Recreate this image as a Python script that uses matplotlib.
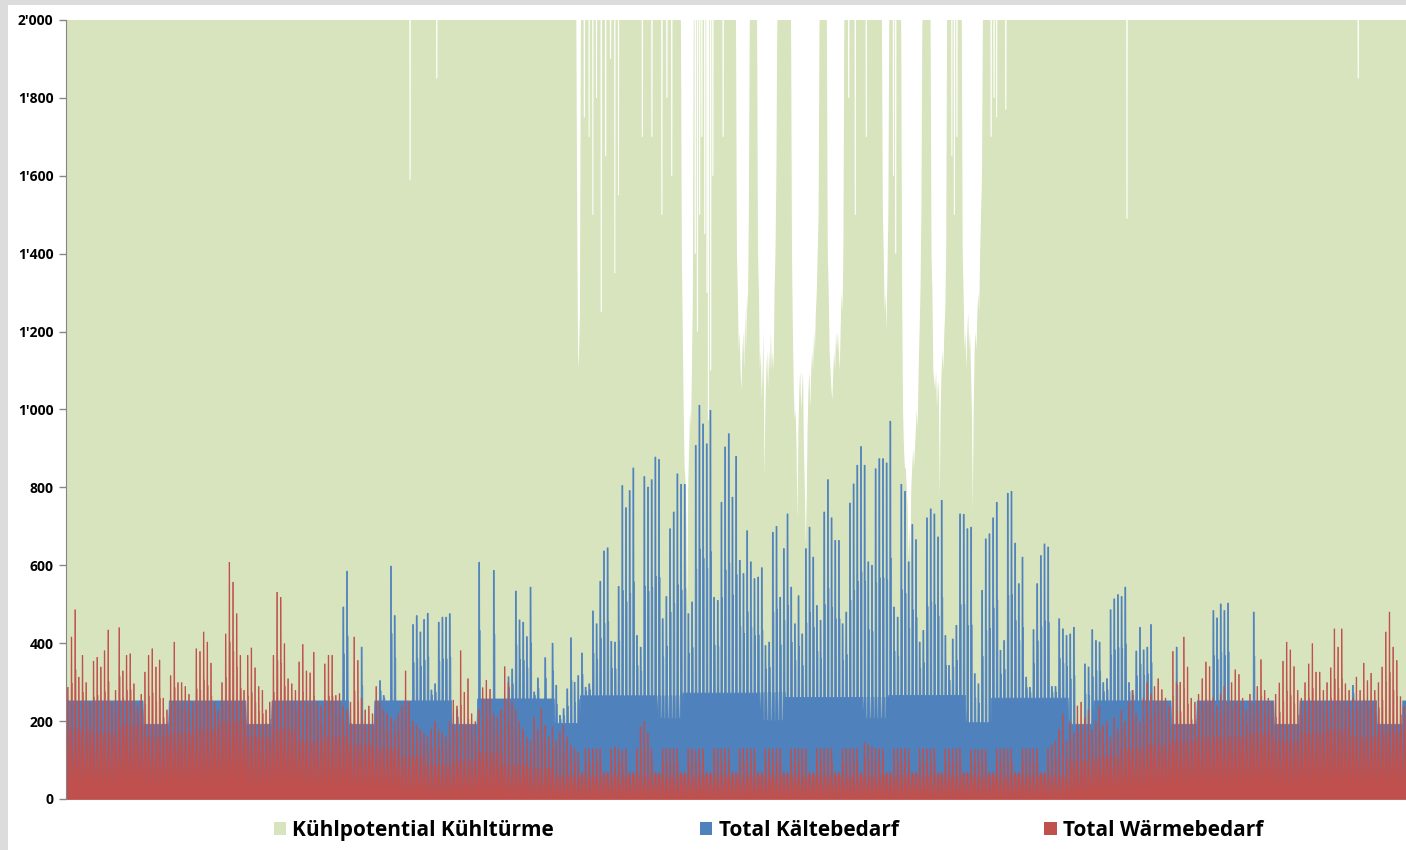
import numpy as np
import matplotlib.pyplot as plt
from matplotlib.patches import Patch, Rectangle
from matplotlib.ticker import FuncFormatter

plt.rcParams['font.family'] = ['Open Sans', 'DejaVu Sans']

# Kältebedarf: Grundlast je 4-Wochen-Zyklus (3 Wochen normal, 1 Woche reduziert)
cycle_hi = [253, 253, 253, 253, 258, 266, 273, 262, 267, 260, 253, 253, 253, 253]
cycle_lo = [193, 193, 193, 193, 195, 208, 203, 208, 197, 193, 193, 193, 193, 193]
cycle_lo_day = [193, 193, 193, 193, 195, 266, 274, 262, 197, 193, 193, 193, 193, 193]

# Tagesspitzen Kältebedarf (0 = keine Spitze über Grundlast), Tag 0..364
cool_peak = [
    0, 0, 0, 0, 0, 0, 0, 0, 0, 0, 0, 0, 0, 0,
    0, 0, 0, 0, 0, 0, 0, 0, 0, 0, 0, 0, 0, 0,
    0, 0, 0, 0, 0, 0, 0, 0, 0, 0, 0, 0, 0, 0,
    0, 0, 0, 0, 0, 0, 0, 0, 0, 0, 0, 0, 0, 0,
    0, 0, 0, 0, 0, 0, 0, 0, 0, 0, 0, 0, 0, 0,
    0, 0, 0, 0, 0, 494, 586,
    0, 0, 0, 391, 0, 0, 0,
    0, 305, 267, 0, 599, 472, 0,
    0, 0, 0, 449, 472, 430, 462,
    478, 281, 297, 455, 468, 468, 477,
    0, 230, 0, 0, 0, 0, 0,
    609, 0, 0, 0, 588, 0, 0,
    0, 315, 335, 535, 461, 455, 418,
    545, 276, 312, 0, 364, 0, 401,
    293, 216, 233, 284, 415, 301, 318,
    376, 288, 297, 484, 451, 560, 638,
    646, 406, 404, 547, 806, 749, 793,
    851, 421, 391, 829, 802, 821, 879,
    873, 464, 521, 695, 738, 836, 809,
    809, 477, 507, 909, 1012, 964, 913,
    999, 519, 511, 763, 905, 939, 776,
    881, 614, 580, 690, 610, 567, 571,
    595, 395, 404, 686, 701, 519, 644,
    733, 545, 451, 523, 425, 644, 699,
    622, 498, 460, 738, 821, 723, 665,
    665, 451, 481, 761, 810, 858, 906,
    858, 610, 601, 849, 875, 875, 864,
    971, 494, 468, 809, 791, 610, 706,
    667, 404, 434, 723, 746, 733, 674,
    768, 421, 344, 412, 447, 733, 732,
    695, 699, 323, 297, 537, 669, 682,
    723, 763, 383, 408, 786, 791, 658,
    554, 622, 314, 288, 436, 554, 626,
    656, 648, 290, 290, 464, 438, 421,
    425, 442, 0, 0, 348, 340, 436,
    408, 404, 300, 310, 487, 515, 526,
    521, 545, 300, 280, 381, 442, 384,
    391, 449, 0, 0, 0, 0, 0,
    0, 391, 0, 0, 0, 0, 0,
    0, 0, 0, 0, 485, 466, 502,
    485, 504, 0, 0, 0, 0, 0,
    0, 481, 0, 0, 0, 0, 0,
    0, 0, 0, 0, 0, 0, 0,
    0, 0, 0, 0, 0, 0, 0,
    0, 0, 0, 0, 0, 0, 0,
    293, 0, 0, 0, 0, 0, 0,
    0, 0, 0, 0, 0, 0, 0,
    0,
]

# Tagesspitzen Wärmebedarf, Tag 0..364
heat_peak = [
    288, 417, 487, 314, 370, 300, 250,
    355, 365, 340, 382, 435, 250, 280,
    441, 330, 370, 374, 297, 240, 270,
    327, 370, 387, 340, 358, 260, 230,
    318, 404, 300, 300, 290, 270, 250,
    387, 380, 430, 404, 350, 250, 230,
    300, 425, 609, 558, 477, 370, 280,
    370, 389, 338, 290, 280, 230, 250,
    370, 532, 519, 400, 310, 297, 280,
    353, 398, 330, 325, 378, 250, 240,
    348, 370, 370, 267, 272, 240, 230,
    250, 417, 357, 260, 230, 240, 220,
    290, 250, 230, 220, 210, 200, 220,
    240, 330, 250, 200, 190, 180, 170,
    160, 180, 200, 180, 170, 160, 200,
    255, 240, 382, 275, 310, 220, 200,
    230, 287, 306, 283, 220, 210, 230,
    341, 300, 250, 230, 200, 180, 160,
    150, 211, 180, 233, 190, 160, 186,
    150, 170, 190, 160, 140, 130, 120,
    70, 130, 130, 130, 130, 130, 70,
    70, 130, 135, 130, 125, 130, 70,
    70, 130, 186, 200, 170, 130, 70,
    70, 130, 130, 130, 130, 130, 70,
    70, 130, 130, 125, 130, 130, 70,
    70, 130, 130, 130, 130, 130, 70,
    70, 130, 130, 130, 130, 130, 70,
    70, 130, 130, 130, 130, 130, 70,
    70, 130, 130, 130, 130, 130, 70,
    70, 130, 130, 130, 130, 130, 70,
    70, 130, 130, 130, 130, 130, 70,
    147, 140, 135, 130, 130, 130, 70,
    70, 130, 130, 130, 130, 130, 70,
    70, 130, 130, 130, 130, 130, 70,
    70, 130, 130, 130, 130, 130, 70,
    70, 128, 128, 128, 128, 128, 70,
    70, 130, 130, 130, 130, 130, 70,
    70, 130, 130, 130, 130, 130, 70,
    70, 130, 140, 150, 180, 220, 150,
    200, 170, 240, 250, 210, 230, 180,
    200, 240, 190, 200, 160, 210, 180,
    230, 200, 250, 280, 220, 200, 260,
    300, 270, 290, 310, 282, 260, 240,
    380, 300, 301, 417, 340, 260, 250,
    270, 310, 353, 341, 260, 240, 270,
    290, 250, 300, 333, 321, 260, 230,
    270, 250, 290, 359, 280, 260, 250,
    270, 299, 355, 404, 384, 341, 280,
    260, 300, 348, 400, 327, 327, 280,
    300, 338, 438, 391, 438, 297, 280,
    260, 314, 280, 350, 305, 324, 280,
    300, 340, 430, 481, 391, 357, 264,
    240,
]

# Wärmebedarf: Tagesmittel- und Nachtwerte je Woche (53 Wochen)
heat_mid = [180, 170, 190, 160, 170, 180, 200, 160, 180, 150, 160, 140, 130,
            110, 90, 100, 120, 90, 80, 62, 62, 62, 62, 62, 62, 62, 62, 62, 62,
            62, 62, 62, 62, 62, 62, 62, 62, 62, 62, 100, 110, 130, 140, 150,
            160, 160, 170, 150, 170, 180, 160, 170, 180]
heat_low = [50, 45, 55, 40, 50, 50, 60, 40, 50, 40, 40, 35, 30,
            20, 15, 20, 25, 15, 10, 8, 8, 8, 8, 8, 8, 8, 8, 8, 8,
            8, 8, 8, 8, 8, 8, 8, 8, 8, 8, 20, 30, 30, 40, 45,
            45, 45, 50, 40, 50, 50, 45, 50, 50]

# Kühlpotential Kühltürme: 2000 (Achsenmaximum) mit Einbrüchen im Sommer
# Einbruchsphasen: Starttag und Werte im Abstand von 6 Stunden
green_segments = [
    (139.0, [2000, 1500, 1100, 1150, 1250, 2000]),
    (167.5, [2000, 1400, 1200, 1000, 850, 820, 700, 480, 820, 900, 1000, 950, 1100,
             1300, 2000]),
    (182.5, [2000, 1400, 1300, 1150, 1200, 1100, 1050, 1150, 1200, 1100, 1250, 1150,
             1300, 1250, 1500, 2000]),
    (188.25, [2000, 1400, 1300, 1100, 1150, 1024, 1100, 1200, 819, 1000, 1100, 1150,
              1050, 1150, 1100, 1200, 1100, 1150, 1100, 1300, 1400, 1600, 2000]),
    (197.5, [2000, 1400, 1200, 1050, 973, 1000, 900, 708, 950, 1050, 1100, 1000,
             1050, 1100, 900, 800, 647, 760, 950, 1050, 1100, 1000, 1100, 1150,
             1100, 1200, 1150, 1250, 1300, 1400, 1500, 2000]),
    (207.25, [2000, 1400, 1300, 1150, 1100, 1050, 1024, 1100, 1150, 1100, 1200, 1150,
              1200, 1150, 1100, 1200, 1300, 1250, 1400, 2000]),
    (222.25, [2000, 1500, 1400, 1250, 1300, 1200, 1350, 1500, 2000]),
    (227.5, [2000, 1300, 1000, 900, 850, 850, 800, 750, 605, 700, 596, 800, 850,
             900, 850, 900, 950, 1000, 950, 1100, 1200, 1300, 1500, 2000]),
    (235.5, [2000, 1400, 1300, 1100, 1075, 1050, 1100, 1000, 1075, 1050, 768, 1000,
             1100, 1150, 1100, 1200, 1250, 1400, 2000]),
    (244.0, [2000, 1400, 1300, 1150, 1200, 1100, 1200, 1250, 1150, 1200, 1100, 1000,
             734, 1000, 1150, 1200, 1150, 1250, 1300, 1250, 1400, 1500, 1600, 2000]),
]
# einzelne kurze Einbrüche: (Tag, Wert)
green_dips = [(93.7, 1590), (101.0, 1850), (141.2, 1750), (142.5, 1700), (143.5, 1500),
              (144.5, 1800), (145.8, 1250), (147.0, 1650), (148.3, 1900), (149.5, 1350),
              (150.5, 1550), (157.0, 1700), (159.6, 1700), (162.3, 1500), (163.7, 1800),
              (165.0, 1600), (171.4, 1400), (172.0, 1200), (172.6, 1500), (173.2, 1700),
              (174.0, 1450), (174.6, 1300), (175.0, 973), (175.6, 1100), (176.2, 1600),
              (179.0, 1700), (213.2, 1800), (215.0, 1500), (218.0, 1700), (225.4, 1600),
              (226.0, 1400), (241.3, 1650), (242.0, 1500), (242.7, 1700), (252.0, 1700),
              (252.8, 1800), (253.5, 1750), (256.0, 1770), (289.0, 1490), (352.0, 1850)]

C_GREEN = '#d7e4bd'
C_BLUE = '#4f81bd'
C_RED = '#c0504d'

n_days = len(heat_peak)
days = np.arange(n_days)


def day_profile(t, cols, last):
    x = (days[:, None] + np.asarray(t)[None, :]).ravel()
    y = np.stack(cols, axis=1).ravel()
    return np.append(x, n_days), np.append(y, last)


# Kälte: Grundlast, kurze Tagesspitze mit Schulter
cyc = days // 28
low_week = (days % 28) >= 21
night = np.where(low_week, np.array(cycle_lo)[cyc], np.array(cycle_hi)[cyc])
daylv = np.where(low_week, np.array(cycle_lo_day)[cyc], np.array(cycle_hi)[cyc])
c_pk = np.maximum(np.array(cool_peak), daylv)
c_sh = (c_pk + daylv) / 2
xc, yc = day_profile([0.0, 0.14, 0.2, 0.25, 0.28, 0.52, 0.55, 0.68, 0.71, 0.78, 0.84],
                     [night, night, daylv, daylv, c_pk, c_pk, c_sh, c_sh, daylv, daylv, night],
                     night[-1])

# Wärme: Nachtwert, Tagesmittel, Spitze mit Schulter
wk = days // 7
h_low = np.array(heat_low)[wk]
h_mid = np.array(heat_mid)[wk]
h_pk = np.array(heat_peak)
h_sh = (h_pk + h_mid) / 2
xh, yh = day_profile([0.0, 0.04, 0.15, 0.24, 0.27, 0.45, 0.48, 0.58, 0.61, 0.66, 0.86],
                     [h_low, h_low, h_mid, h_mid, h_pk, h_pk, h_sh, h_sh, h_mid, h_mid, h_low],
                     h_low[-1])

# Kühlpotential
xg = np.arange(0, n_days + 0.001, 0.04)
yg = np.full(len(xg), 2000.0)
for start, vals in green_segments:
    xs = start + 0.25 * np.arange(len(vals))
    m = (xg >= xs[0]) & (xg <= xs[-1])
    yg[m] = np.minimum(yg[m], np.interp(xg[m], xs, vals))
for d, lvl in green_dips:
    m = np.abs(xg - d) < 0.18
    yg[m] = np.minimum(yg[m], lvl)

fig = plt.figure(figsize=(14.06, 8.5), dpi=100)
fig.patch.set_facecolor('#dcdcdc')
fig.patches.append(Rectangle((8 / 1406, 0), 1, 1 - 5 / 850, transform=fig.transFigure,
                             facecolor='white', edgecolor='none', zorder=-5))

ax = fig.add_axes([66 / 1406, 1 - 799 / 850, 1 - 66 / 1406, 779 / 850])
ax.set_zorder(2)
ax.set_facecolor('white')
ax.fill_between(xg, 0, yg, facecolor=C_GREEN, edgecolor='none', linewidth=0, zorder=1)
ax.fill_between(xc, 0, yc, facecolor=C_BLUE, edgecolor=C_BLUE, linewidth=0.6, zorder=2)
ax.fill_between(xh, 0, yh, facecolor=C_RED, edgecolor=C_RED, linewidth=0.5, zorder=3)

ax.set_xlim(0, n_days)
ax.set_ylim(0, 2000)
ax.set_yticks(np.arange(0, 2001, 200))
ax.yaxis.set_major_formatter(FuncFormatter(lambda v, p: f"{v:,.0f}".replace(',', "'")))
ax.set_xticks([])
for lab in ax.get_yticklabels():
    lab.set_fontweight('bold')
ax.tick_params(axis='y', direction='out', length=5, width=1, color='#868686',
               labelsize=10, pad=4, labelcolor='black')
for s in ['top', 'right']:
    ax.spines[s].set_visible(False)
ax.spines['left'].set_color('#868686')
ax.spines['bottom'].set_color('#e6cfcf')
ax.spines['left'].set_zorder(5)

handles = [Patch(facecolor=C_GREEN), Patch(facecolor=C_BLUE), Patch(facecolor=C_RED)]
labels = ['Kühlpotential Kühltürme', 'Total Kältebedarf', 'Total Wärmebedarf']
fig.legend(handles, labels, loc='center', bbox_to_anchor=(0.5466, 0.0235), ncol=3,
           frameon=False, prop={'weight': 'bold', 'size': 15}, handlelength=0.6,
           handleheight=0.6, handletextpad=0.3, columnspacing=7.0)

fig.savefig('out.png', dpi=100, facecolor=fig.get_facecolor())
